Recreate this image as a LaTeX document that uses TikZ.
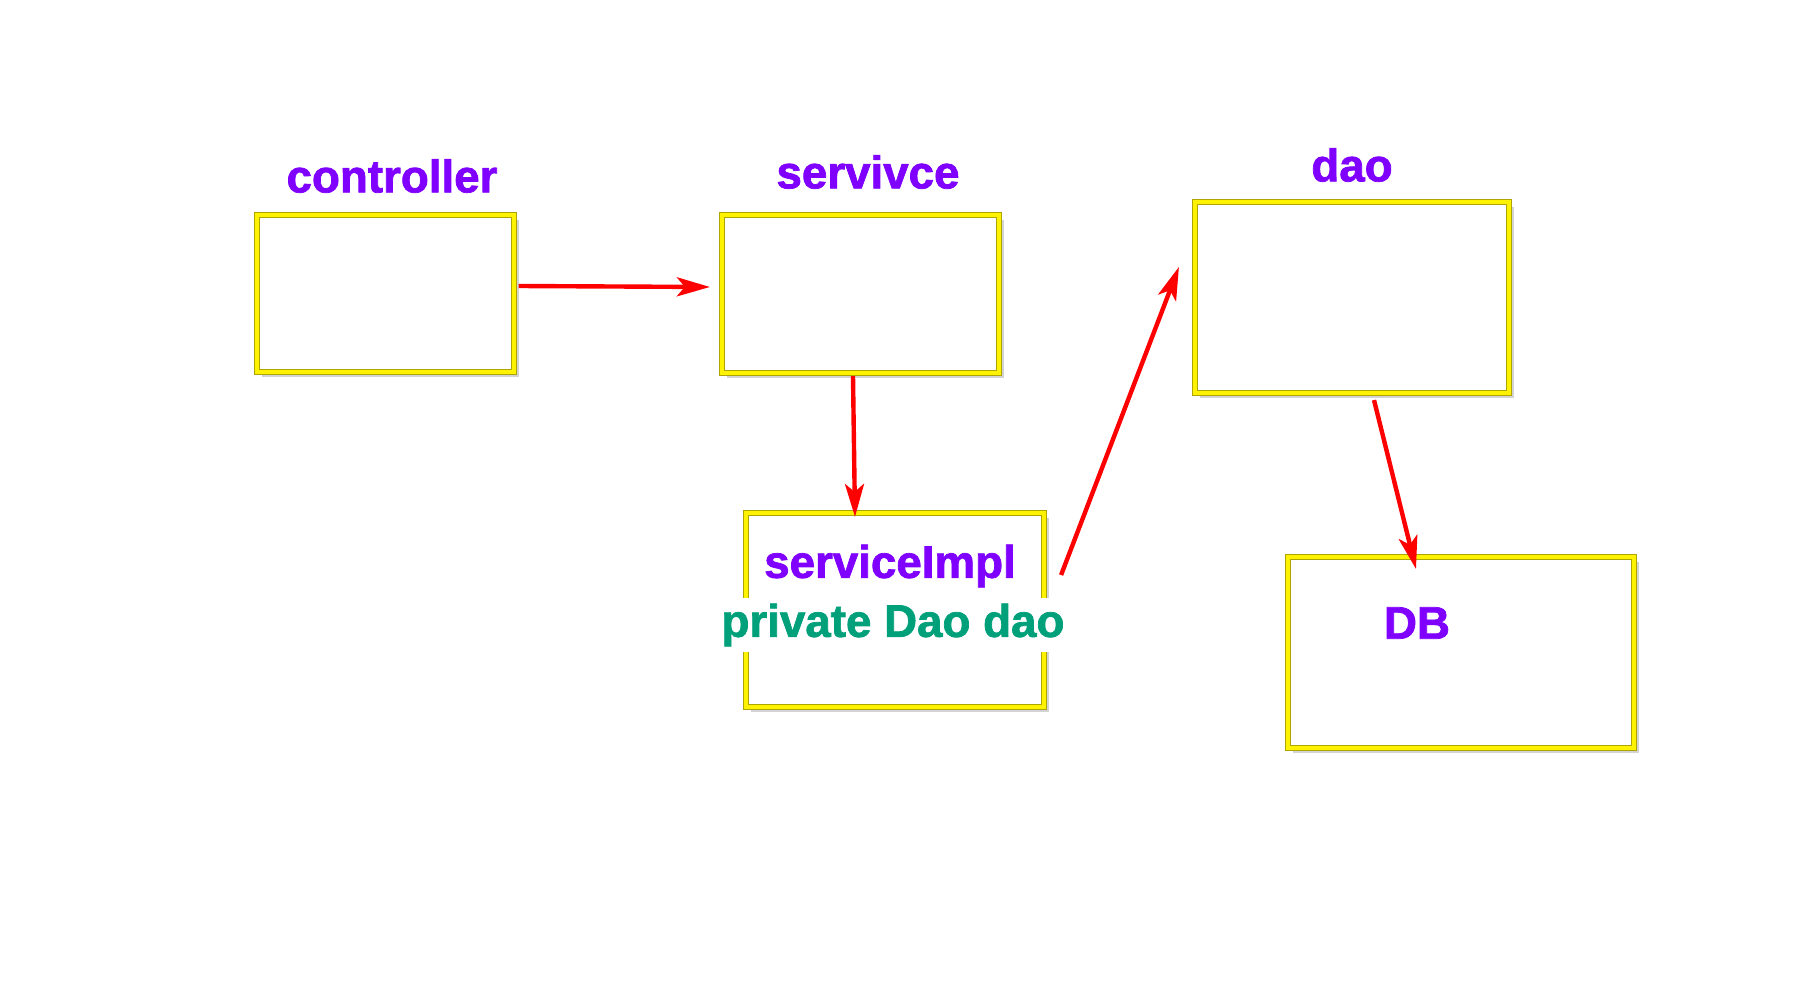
\documentclass[tikz,border=0pt]{standalone}
\usepackage{fontspec}
\setmainfont{Liberation Sans}[BoldFeatures={FakeBold=1.6}]
\usetikzlibrary{arrows.meta,shadows}
\definecolor{labpurple}{RGB}{128,0,255}
\definecolor{labgreen}{RGB}{0,160,122}
\definecolor{boxedge}{RGB}{175,165,0}
\begin{document}
\begin{tikzpicture}[x=0.01cm,y=-0.01cm,
  box/.style={draw=boxedge,double=yellow,double distance=1.2pt,line width=0.3pt,
    fill=white,inner sep=0pt,outer sep=0pt,
    drop shadow={shadow xshift=0.05cm,shadow yshift=-0.05cm,opacity=0.35}},
  lab/.style={font=\fontsize{13}{15}\selectfont\bfseries,text=labpurple,inner sep=0pt},
  arr/.style={draw=red,line width=1.25pt,
    -{Stealth[length=0.33cm,width=0.19cm,inset=0.08cm]}}]
  \useasboundingbox (0,0) rectangle (1800,1000);
  % boxes
  \node[box,minimum width=2.57cm,minimum height=1.57cm] (ctrl) at (385.5,293.5) {};
  \node[box,minimum width=2.77cm,minimum height=1.58cm] (srv) at (860.5,294) {};
  \node[box,minimum width=3.14cm,minimum height=1.91cm] (dao) at (1352,297.5) {};
  \node[box,minimum width=2.98cm,minimum height=1.94cm] (impl) at (895,610) {};
  \node[box,minimum width=3.46cm,minimum height=1.91cm] (db) at (1461,652.5) {};
  % labels
  \node[lab] (ctrlL) at (392,176) {controller};
  \node[lab] (srvL) at (868,172) {servivce};
  \node[lab] (daoL) at (1352,165) {dao};
  \node[lab] (implL) at (890,566) {serviceImpl};
  \node[lab,text=labgreen,fill=white,inner sep=1.5pt] (field) at (893,625) {private Dao dao};
  \node[lab] (dbL) at (1417,623) {DB};
  % calls
  \draw[arr] ([xshift=0.045cm,yshift=0.075cm]ctrl.east)
    -- ([xshift=-0.12cm,yshift=0.07cm]srv.west);
  \draw[arr] ([xshift=-0.075cm,yshift=-0.03cm]srv.south)
    -- ([xshift=-0.40cm,yshift=-0.04cm]impl.north);
  \draw[arr] ([xshift=0.17cm,yshift=0.35cm]impl.east)
    -- ([xshift=-0.16cm,yshift=0.305cm]dao.west);
  \draw[arr] ([xshift=0.22cm,yshift=-0.07cm]dao.south)
    -- ([xshift=-0.45cm,yshift=-0.12cm]db.north);
\end{tikzpicture}
\end{document}
